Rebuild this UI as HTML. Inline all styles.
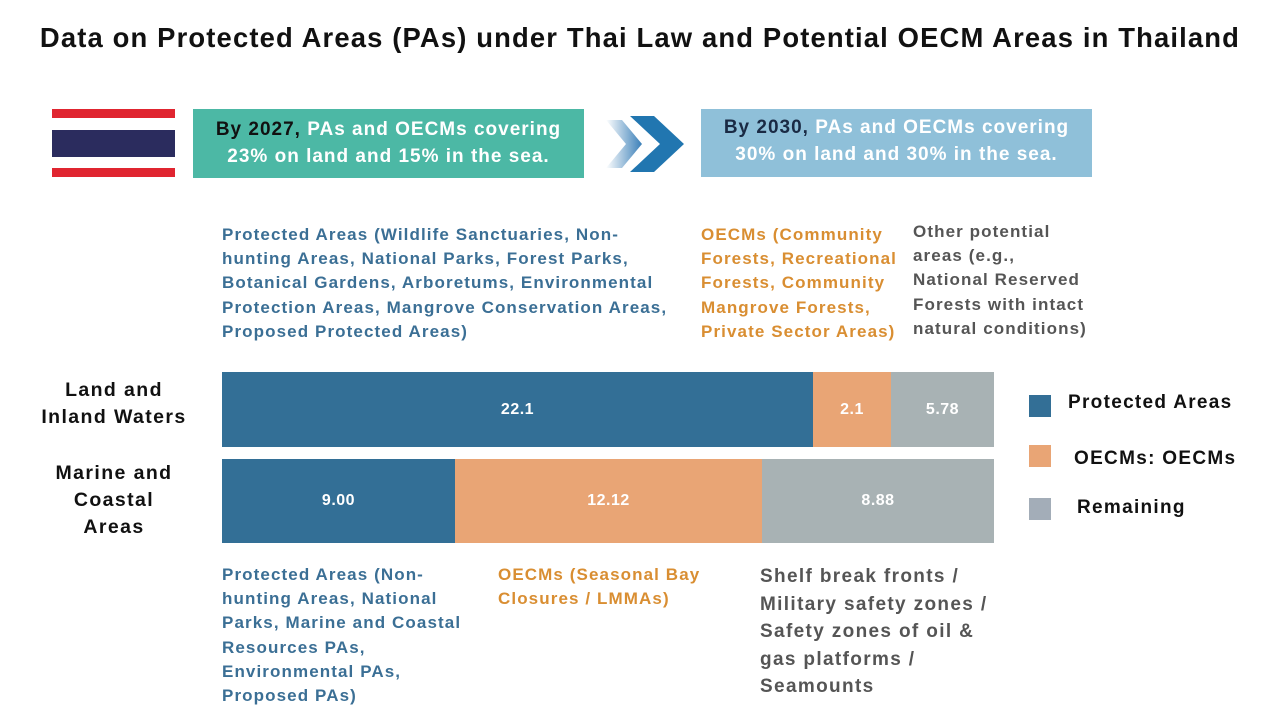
<!DOCTYPE html>
<html><head><meta charset="utf-8"><style>
body{margin:0;width:1280px;height:720px;background:#fff;position:relative;overflow:hidden;font-family:"Liberation Sans",sans-serif;font-weight:bold}
.a{position:absolute}
.t{white-space:nowrap}
.blue{color:#3b6f95}.or{color:#d98e32}.gr{color:#555}
.bar{position:absolute;color:#fff;font-size:16px;display:flex;align-items:center;justify-content:center;letter-spacing:0.5px}
.lg{position:absolute;width:22px;height:22px}
.lt{position:absolute;font-size:19px;color:#111;letter-spacing:1.3px}
.p{font-size:17px;line-height:24.2px;letter-spacing:1.1px}
</style></head><body>
<div class="a t" style="left:0;width:1280px;top:22px;text-align:center;font-size:27.4px;color:#111;letter-spacing:1.15px">Data on Protected Areas (PAs) under Thai Law and Potential OECM Areas in Thailand</div>
<div class="a" style="left:52px;top:109px;width:123px;height:9px;background:#e02530"></div>
<div class="a" style="left:52px;top:130px;width:123px;height:27px;background:#2b2c5e"></div>
<div class="a" style="left:52px;top:168px;width:123px;height:9px;background:#e02530"></div>
<div class="a t" style="left:193px;top:109px;width:391px;height:69px;background:#4cb8a5;color:#fff;font-size:19px;text-align:center;line-height:27px;padding-top:7px;box-sizing:border-box;letter-spacing:1px"><span style="color:#111">By 2027,</span> PAs and OECMs covering<br>23% on land and 15% in the sea.</div>
<svg class="a" style="left:604px;top:116px" width="82" height="56"><defs><linearGradient id="g" x1="0" x2="1"><stop offset="0" stop-color="#fff"/><stop offset="1" stop-color="#3a7fb8"/></linearGradient></defs><polygon points="2,4 18,4 38,28 18,52 2,52 22,28" fill="url(#g)"/><polygon points="26,0 50,0 80,28 50,56 26,56 56,28" fill="#2176b0"/></svg>
<div class="a t" style="left:701px;top:109px;width:391px;height:68px;background:#8fc0d9;color:#fff;font-size:19px;text-align:center;line-height:27px;padding-top:5px;box-sizing:border-box;letter-spacing:1px"><span style="color:#1a2a44">By 2030,</span> PAs and OECMs covering<br>30% on land and 30% in the sea.</div>
<div class="a t p blue" style="left:222px;top:223px">Protected Areas (Wildlife Sanctuaries, Non-<br>hunting Areas, National Parks, Forest Parks,<br>Botanical Gardens, Arboretums, Environmental<br>Protection Areas, Mangrove Conservation Areas,<br>Proposed Protected Areas)</div>
<div class="a t p or" style="left:701px;top:223px">OECMs (Community<br>Forests, Recreational<br>Forests, Community<br>Mangrove Forests,<br>Private Sector Areas)</div>
<div class="a t p gr" style="left:913px;top:220px">Other potential<br>areas (e.g.,<br>National Reserved<br>Forests with intact<br>natural conditions)</div>
<div class="a t" style="left:14px;width:200px;text-align:center;top:377px;font-size:19.5px;line-height:27px;color:#111;letter-spacing:1.4px">Land and<br>Inland Waters</div>
<div class="a t" style="left:14px;width:200px;text-align:center;top:460px;font-size:19.5px;line-height:27px;color:#111;letter-spacing:1.4px">Marine and<br>Coastal<br>Areas</div>
<div class="bar" style="left:222px;top:372px;width:591px;height:75px;background:#336f96">22.1</div>
<div class="bar" style="left:813px;top:372px;width:78px;height:75px;background:#e9a575">2.1</div>
<div class="bar" style="left:891px;top:372px;width:103px;height:75px;background:#a8b2b4">5.78</div>
<div class="bar" style="left:222px;top:459px;width:233px;height:84px;background:#336f96">9.00</div>
<div class="bar" style="left:455px;top:459px;width:307px;height:84px;background:#e9a575">12.12</div>
<div class="bar" style="left:762px;top:459px;width:232px;height:84px;background:#a8b2b4">8.88</div>
<div class="lg" style="left:1029px;top:395px;background:#336f96"></div><div class="lt t" style="left:1068px;top:392px">Protected Areas</div>
<div class="lg" style="left:1029px;top:445px;background:#e9a575"></div><div class="lt t" style="left:1074px;top:448px">OECMs: OECMs</div>
<div class="lg" style="left:1029px;top:498px;background:#a3adb8"></div><div class="lt t" style="left:1077px;top:497px">Remaining</div>
<div class="a t p blue" style="left:222px;top:563px">Protected Areas (Non-<br>hunting Areas, National<br>Parks, Marine and Coastal<br>Resources PAs,<br>Environmental PAs,<br>Proposed PAs)</div>
<div class="a t p or" style="left:498px;top:563px">OECMs (Seasonal Bay<br>Closures / LMMAs)</div>
<div class="a t gr" style="left:760px;top:563px;font-size:19px;line-height:27.5px;letter-spacing:1.35px">Shelf break fronts /<br>Military safety zones /<br>Safety zones of oil &amp;<br>gas platforms /<br>Seamounts</div>
</body></html>
